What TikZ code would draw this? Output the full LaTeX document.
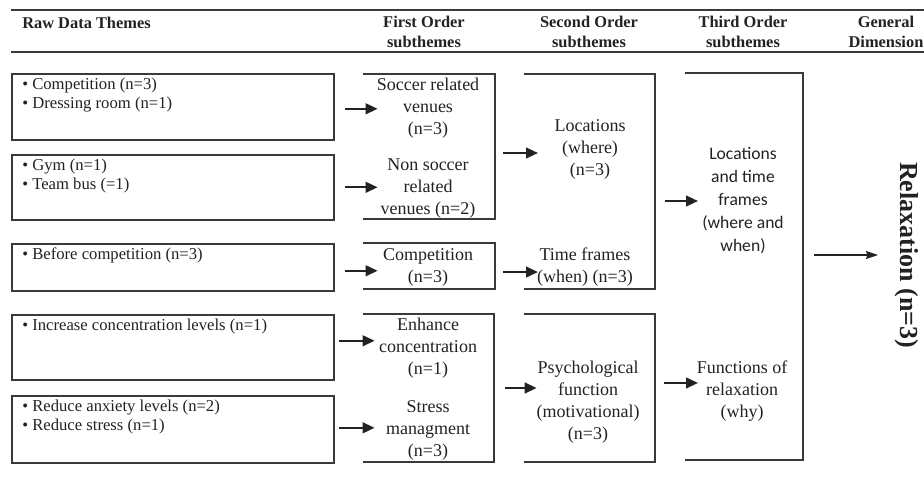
\documentclass[tikz,border=0pt]{standalone}
\usepackage{fontspec}
\setmainfont{Liberation Serif}
\newfontfamily\calibrifont{Carlito}
\usetikzlibrary{arrows.meta}
\definecolor{ink}{HTML}{222222}
\definecolor{linegray}{HTML}{3A3A3A}
\begin{document}
\begin{tikzpicture}[x=0.75pt,y=-0.75pt,
  rule/.style={draw=linegray, line width=1.1pt},
  rawbox/.style={draw=linegray, line width=1.2pt, rectangle, inner sep=0pt, anchor=north west},
  bracket/.style={draw=linegray, line width=1.1pt},
  rawtxt/.style={anchor=north west, font=\fontsize{12.5}{14.25}\selectfont, text=ink, inner sep=0pt, align=left},
  subtxt/.style={align=center, font=\fontsize{13.5}{16.5}\selectfont, text=ink, inner sep=0pt},
  sanstxt/.style={align=center, font=\calibrifont\fontsize{13.2}{17.2}\selectfont, text=ink, inner sep=0pt},
  head/.style={align=center, font=\bfseries\fontsize{12.3}{15}\selectfont, text=ink, inner sep=0pt},
  arr/.style={-{Triangle[length=9pt,width=8pt]}, line width=1.7pt, draw=ink},
  thinarr/.style={-{Stealth[length=9pt,width=6pt,inset=1pt]}, line width=0.9pt, draw=ink}]

\useasboundingbox (0,0) rectangle (924,485);

% header rules
\coordinate (ruleTL) at (11,10);
\coordinate (ruleBL) at (11,52);
\draw[rule] (ruleTL) -- (924,10);
\draw[rule] (ruleBL) -- (924,52);

% column headings
\node[head, anchor=west] (hraw) at (22,23) {Raw Data Themes};
\node[head] (hfirst)  at (424,32) {First Order\\subthemes};
\node[head] (hsecond) at (589,32) {Second Order\\subthemes};
\node[head] (hthird)  at (743,32) {Third Order\\subthemes};
\node[head] (hgen)    at (886,32) {General\\Dimension};

% raw data theme boxes
\node[rawbox, minimum width=241.5pt, minimum height=49.5pt]  (raw1) at (11,73)  {};
\node[rawbox, minimum width=241.5pt, minimum height=48.75pt] (raw2) at (11,154) {};
\node[rawbox, minimum width=241.5pt, minimum height=35.25pt] (raw3) at (11,243) {};
\node[rawbox, minimum width=241.5pt, minimum height=48.75pt] (raw4) at (11,314) {};
\node[rawbox, minimum width=241.5pt, minimum height=50.25pt] (raw5) at (11,395) {};

\node[rawtxt] (rt1) at ([shift={(11,4.5)}]raw1.north west) {• Competition (n=3)\\• Dressing room (n=1)};
\node[rawtxt] (rt2) at ([shift={(11,4.5)}]raw2.north west) {• Gym (n=1)\\• Team bus (=1)};
\node[rawtxt] (rt3) at ([shift={(11,4.5)}]raw3.north west) {• Before competition (n=3)};
\node[rawtxt] (rt4) at ([shift={(11,4.5)}]raw4.north west) {• Increase concentration levels (n=1)};
\node[rawtxt] (rt5) at ([shift={(11,4.5)}]raw5.north west) {• Reduce anxiety levels (n=2)\\• Reduce stress (n=1)};

% first order brackets (open on the left)
\coordinate (fa-nw) at (363,74);  \coordinate (fa-ne) at (495,74);
\coordinate (fa-se) at (495,219); \coordinate (fa-sw) at (363,219);
\coordinate (fb-nw) at (363,243); \coordinate (fb-ne) at (495,243);
\coordinate (fb-se) at (495,289); \coordinate (fb-sw) at (363,289);
\coordinate (fc-nw) at (363,314); \coordinate (fc-ne) at (494,314);
\coordinate (fc-se) at (494,462); \coordinate (fc-sw) at (363,462);
\draw[bracket] (fa-nw) -- (fa-ne) -- (fa-se) -- (fa-sw);
\draw[bracket] (fb-nw) -- (fb-ne) -- (fb-se) -- (fb-sw);
\draw[bracket] (fc-nw) -- (fc-ne) -- (fc-se) -- (fc-sw);

\node[subtxt] (fo1) at (428,108.5) {Soccer related\\venues\\(n=3)};
\node[subtxt] (fo2) at (428,188.5) {Non soccer\\related\\venues (n=2)};
\node[subtxt] (fo3) at (428,267.5) {Competition\\(n=3)};
\node[subtxt] (fo4) at (428,348.5) {Enhance\\concentration\\(n=1)};
\node[subtxt] (fo5) at (428,430)   {Stress\\managment\\(n=3)};

% second order brackets
\coordinate (sa-nw) at (524,74);  \coordinate (sa-ne) at (655,74);
\coordinate (sa-se) at (655,289); \coordinate (sa-sw) at (524,289);
\coordinate (sb-nw) at (524,314); \coordinate (sb-ne) at (655,314);
\coordinate (sb-se) at (655,462); \coordinate (sb-sw) at (524,462);
\draw[bracket] (sa-nw) -- (sa-ne) -- (sa-se) -- (sa-sw);
\draw[bracket] (sb-nw) -- (sb-ne) -- (sb-se) -- (sb-sw);

\node[subtxt] (so1) at (590,149)   {Locations\\(where)\\(n=3)};
\node[subtxt] (so2) at (585,267.5) {Time frames\\(when) (n=3)};
\node[subtxt] (so3) at (588,402)   {Psychological\\function\\(motivational)\\(n=3)};

% third order bracket
\coordinate (ta-nw) at (685,73);  \coordinate (ta-ne) at (803,73);
\coordinate (ta-se) at (803,460); \coordinate (ta-sw) at (685,460);
\draw[bracket] (ta-nw) -- (ta-ne) -- (ta-se) -- (ta-sw);

\node[sanstxt] (to1) at (743,201)   {Locations\\and time\\frames\\(where and\\when)};
\node[subtxt]  (to2) at (742,391.5) {Functions of\\relaxation\\(why)};

% general dimension
\node[font=\bfseries\fontsize{19.5}{22}\selectfont, text=ink, rotate=-90, inner sep=0pt] (gen) at (907,255) {Relaxation (n=3)};

% raw data -> first order
\draw[arr] ([xshift=7.5pt,yshift=-1.5pt]raw1.east) -- ++(33,0);
\draw[arr] ([xshift=7.5pt]raw2.east) -- ++(33,0);
\draw[arr] ([xshift=7.5pt,yshift=-2.6pt]raw3.east) -- ++(33,0);
\draw[arr] ([xshift=3pt,yshift=4.9pt]raw4.east) -- ++(36,0);
\draw[arr] ([xshift=3pt,yshift=1.1pt]raw5.east) -- ++(36,0);

% first order -> second order
\draw[arr] ([xshift=6pt,yshift=-3pt]so1.west -| fa-ne) -- ++(35,0);
\draw[arr] ([xshift=6pt,yshift=-3.4pt]so2.west -| fb-ne) -- ++(35,0);
\draw[arr] ([xshift=8pt,yshift=10.5pt]so3.west -| fc-ne) -- ++(32,0);

% second order -> third order
\draw[arr] ([xshift=7.5pt]to1.west -| sa-ne) -- ++(33,0);
\draw[arr] ([xshift=6.75pt,yshift=6.4pt]to2.west -| sb-ne) -- ++(34,0);

% third order -> general dimension
\draw[thinarr] ([xshift=8.25pt]gen.center -| ta-ne) -- ++(64,0);
\end{tikzpicture}
\end{document}
